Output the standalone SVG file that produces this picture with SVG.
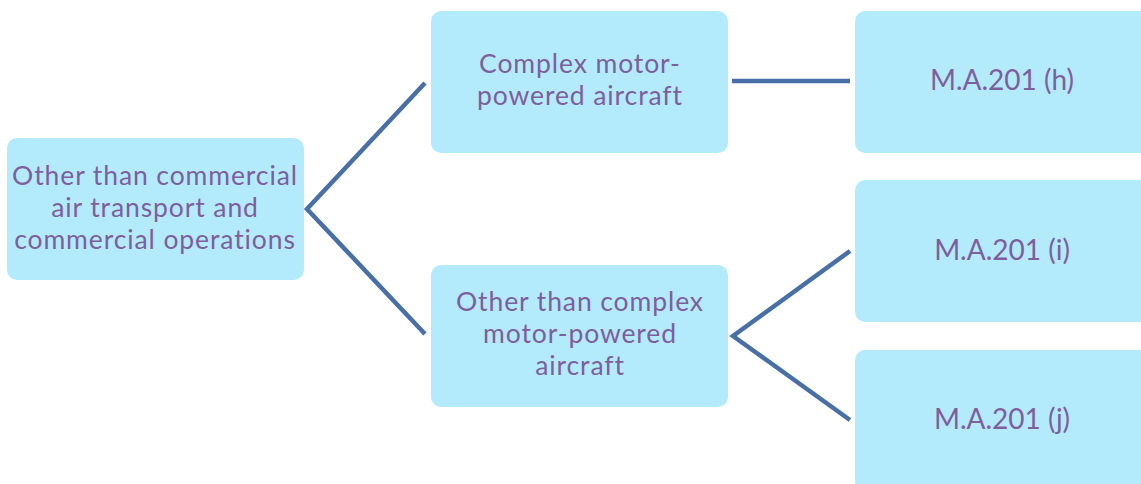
<svg xmlns="http://www.w3.org/2000/svg" width="1141" height="484" viewBox="0 0 1141 484">
<style>
.box{fill:#b3ebfd;stroke:none}
.t{font-family:Lato,"Noto Sans",sans-serif;font-size:26.5px;letter-spacing:0.9px;fill:#7f5e9e;text-anchor:middle}
.m{font-size:28px;letter-spacing:0}
.c{stroke:#4870a6;stroke-width:4.5;fill:none}
</style>
<rect width="1141" height="484" fill="#ffffff"/>
<g id="connectors">
<polyline class="c" points="425,83 307,209 425,334"/>
<line class="c" x1="732" y1="81" x2="850" y2="81"/>
<polyline class="c" points="850,251 733,336 850,420"/>
</g>
<g id="root">
<rect class="box" x="7" y="138" width="297" height="142" rx="10"/>
<text class="t" x="155" y="185">Other than commercial</text>
<text class="t" x="155" y="217">air transport and</text>
<text class="t" x="155" y="249">commercial operations</text>
</g>
<g id="complex">
<rect class="box" x="431" y="11" width="297" height="142" rx="10"/>
<text class="t" x="580" y="73">Complex motor-</text>
<text class="t" x="580" y="105">powered aircraft</text>
</g>
<g id="noncomplex">
<rect class="box" x="431" y="265" width="297" height="142" rx="10"/>
<text class="t" x="580" y="311">Other than complex</text>
<text class="t" x="580" y="343">motor-powered</text>
<text class="t" x="580" y="375">aircraft</text>
</g>
<g id="mah">
<rect class="box" x="855" y="11" width="297" height="142" rx="10"/>
<text class="t m" x="1002" y="90">M.A.201 (h)</text>
</g>
<g id="mai">
<rect class="box" x="855" y="180" width="297" height="142" rx="10"/>
<text class="t m" x="1002" y="260">M.A.201 (i)</text>
</g>
<g id="maj">
<rect class="box" x="855" y="350" width="297" height="142" rx="10"/>
<text class="t m" x="1002" y="429">M.A.201 (j)</text>
</g>
</svg>
